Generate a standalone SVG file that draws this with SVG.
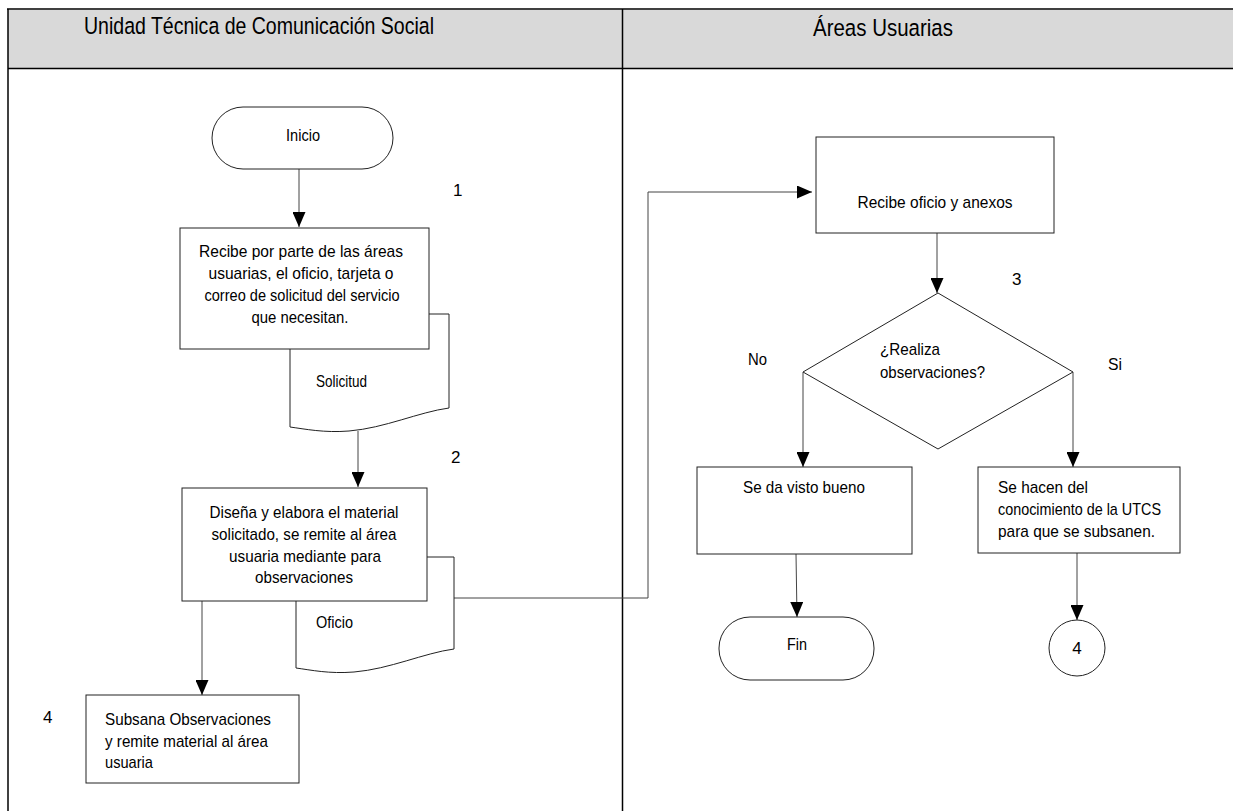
<svg xmlns="http://www.w3.org/2000/svg" width="1233" height="811" viewBox="0 0 1233 811">
<style>
text{font-family:"Liberation Sans",Arial,sans-serif;fill:#000;font-size:17px}
.title{font-size:24.5px}
.mid{text-anchor:middle}
.shape{fill:#fff;stroke:#222;stroke-width:1}
.lane{stroke:#000;stroke-width:1.5;fill:none}
.conn{stroke:#444;stroke-width:1;fill:none}
</style>
<defs>
<marker id="arr" markerUnits="userSpaceOnUse" markerWidth="15" markerHeight="13" refX="15" refY="6.5" orient="auto">
<path d="M0,0 L15,6.5 L0,13 Z" fill="#000"/>
</marker>
</defs>
<rect width="1233" height="811" fill="#fff"/>
<g id="lanes">
<rect x="8" y="10" width="1225" height="58" fill="#d9d9d9"/>
<line class="lane" x1="7" y1="9" x2="1233" y2="9"/>
<line class="lane" x1="8" y1="9" x2="8" y2="811"/>
<line class="lane" x1="8" y1="68.5" x2="1233" y2="68.5"/>
<line class="lane" x1="622.5" y1="9" x2="622.5" y2="811"/>
<text class="title" x="84" y="34" textLength="350" lengthAdjust="spacingAndGlyphs">Unidad Técnica de Comunicación Social</text>
<text class="title" x="813" y="36" textLength="140" lengthAdjust="spacingAndGlyphs">Áreas Usuarias</text>
</g>
<g id="connectors">
<line class="conn" x1="299" y1="169" x2="299" y2="227" marker-end="url(#arr)"/>
<line class="conn" x1="358" y1="431" x2="358" y2="487" marker-end="url(#arr)"/>
<line class="conn" x1="202" y1="601" x2="202" y2="695" marker-end="url(#arr)"/>
<polyline class="conn" points="454,598 648,598 648,192 812,192" marker-end="url(#arr)"/>
<line class="conn" x1="937" y1="233" x2="937" y2="293" marker-end="url(#arr)"/>
<polyline class="conn" points="803,372 803,467" marker-end="url(#arr)"/>
<polyline class="conn" points="1073,372 1073,467" marker-end="url(#arr)"/>
<line class="conn" x1="796" y1="554" x2="797" y2="617" marker-end="url(#arr)"/>
<line class="conn" x1="1077" y1="553" x2="1077" y2="620" marker-end="url(#arr)"/>
</g>
<g id="inicio">
<rect class="shape" x="212" y="107" width="181" height="62" rx="31"/>
<text class="mid" x="303" y="141" textLength="34" lengthAdjust="spacingAndGlyphs">Inicio</text>
</g>
<g id="step1-label"><text x="453" y="196">1</text></g>
<g id="doc-solicitud">
<path class="shape" d="M290,314 H449 V408 C419,412 385,428 349,431 C324,433 305,429 290,427 Z"/>
<text x="316" y="387" textLength="51" lengthAdjust="spacingAndGlyphs">Solicitud</text>
</g>
<g id="recibe-solicitud">
<rect class="shape" x="180" y="228" width="249" height="121"/>
<text class="mid" x="301" y="257" textLength="204" lengthAdjust="spacingAndGlyphs">Recibe por parte de las áreas</text>
<text class="mid" x="301" y="279" textLength="185" lengthAdjust="spacingAndGlyphs">usuarias, el oficio, tarjeta o</text>
<text class="mid" x="302" y="301" textLength="195" lengthAdjust="spacingAndGlyphs">correo de solicitud del servicio</text>
<text class="mid" x="300" y="323" textLength="97" lengthAdjust="spacingAndGlyphs">que necesitan.</text>
</g>
<g id="step2-label"><text x="451" y="463">2</text></g>
<g id="doc-oficio">
<path class="shape" d="M296,557 H454 V649 C424,653 390,669 354,672 C329,674 311,670 296,668 Z"/>
<text x="316" y="628" textLength="37" lengthAdjust="spacingAndGlyphs">Oficio</text>
</g>
<g id="disena">
<rect class="shape" x="182" y="488" width="245" height="113"/>
<text class="mid" x="304" y="518" textLength="189" lengthAdjust="spacingAndGlyphs">Diseña y elabora el material</text>
<text class="mid" x="304" y="540" textLength="185" lengthAdjust="spacingAndGlyphs">solicitado, se remite al área</text>
<text class="mid" x="305" y="562" textLength="152" lengthAdjust="spacingAndGlyphs">usuaria mediante para</text>
<text class="mid" x="304" y="583" textLength="98" lengthAdjust="spacingAndGlyphs">observaciones</text>
</g>
<g id="subsana">
<text x="43" y="723">4</text>
<rect class="shape" x="86" y="695" width="213" height="88"/>
<text x="105" y="725" textLength="166" lengthAdjust="spacingAndGlyphs">Subsana Observaciones</text>
<text x="105" y="747" textLength="163" lengthAdjust="spacingAndGlyphs">y remite material al área</text>
<text x="105" y="768" textLength="48" lengthAdjust="spacingAndGlyphs">usuaria</text>
</g>
<g id="recibe-oficio">
<rect class="shape" x="816" y="137" width="238" height="96"/>
<text class="mid" x="935" y="208" textLength="155" lengthAdjust="spacingAndGlyphs">Recibe oficio y anexos</text>
</g>
<g id="decision">
<text x="1012" y="285">3</text>
<polygon class="shape" points="938,293 1073,372 938,449 803,372"/>
<text x="880" y="355" textLength="60" lengthAdjust="spacingAndGlyphs">¿Realiza</text>
<text x="880" y="378" textLength="105" lengthAdjust="spacingAndGlyphs">observaciones?</text>
<text x="748" y="365" textLength="19" lengthAdjust="spacingAndGlyphs">No</text>
<text x="1108" y="370" textLength="14" lengthAdjust="spacingAndGlyphs">Si</text>
</g>
<g id="visto-bueno">
<rect class="shape" x="697" y="467" width="215" height="87"/>
<text class="mid" x="804" y="493" textLength="122" lengthAdjust="spacingAndGlyphs">Se da visto bueno</text>
</g>
<g id="se-hacen">
<rect class="shape" x="978" y="467" width="202" height="86"/>
<text x="998" y="493" textLength="90" lengthAdjust="spacingAndGlyphs">Se hacen del</text>
<text x="998" y="515" textLength="163" lengthAdjust="spacingAndGlyphs">conocimiento de la UTCS</text>
<text x="998" y="537" textLength="157" lengthAdjust="spacingAndGlyphs">para que se subsanen.</text>
</g>
<g id="fin">
<rect class="shape" x="719" y="617" width="155" height="63" rx="31"/>
<text class="mid" x="797" y="650" textLength="20" lengthAdjust="spacingAndGlyphs">Fin</text>
</g>
<g id="conector-4">
<circle class="shape" cx="1077" cy="648" r="28"/>
<text class="mid" x="1077" y="654">4</text>
</g>
</svg>
